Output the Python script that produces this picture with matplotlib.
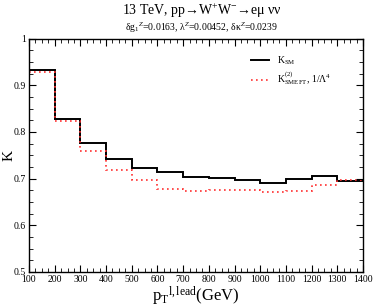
import matplotlib
matplotlib.use("Agg")
import matplotlib.pyplot as plt
from matplotlib.ticker import MultipleLocator

plt.rcParams['font.family'] = ['Liberation Serif', 'DejaVu Serif']
plt.rcParams['mathtext.fontset'] = 'custom'
plt.rcParams['mathtext.rm'] = 'Liberation Serif'
plt.rcParams['mathtext.it'] = 'Liberation Serif:italic'
plt.rcParams['mathtext.bf'] = 'Liberation Serif:bold'

bin_edges = [100, 200, 300, 400, 500, 600, 700, 800, 900, 1000, 1100, 1200, 1300, 1400]
k_sm = [0.932, 0.828, 0.776, 0.743, 0.722, 0.715, 0.703, 0.701, 0.696, 0.690, 0.700, 0.706, 0.694]
k_smeft = [0.929, 0.824, 0.760, 0.718, 0.696, 0.678, 0.673, 0.676, 0.676, 0.671, 0.674, 0.686, 0.698]

fig = plt.figure(figsize=(3.74, 3.08), dpi=100)
ax = fig.add_axes([0.0775, 0.117, 0.893, 0.758])

ax.stairs(k_sm, bin_edges, baseline=None, color='black', lw=1.4, label=r'K$_{\rm SM}$')
ax.stairs(k_smeft, bin_edges, baseline=None, color='#ff3030', lw=1.2, ls=(0, (1, 2)),
          label=r'K$^{(2)}_{\rm SMEFT}$, 1/$\Lambda^4$')

ax.set_xlim(100, 1400)
ax.set_ylim(0.5, 1.0)
ax.xaxis.set_major_locator(MultipleLocator(100))
ax.xaxis.set_minor_locator(MultipleLocator(25))
ax.yaxis.set_minor_locator(MultipleLocator(0.025))
ax.set_yticks([0.5, 0.6, 0.7, 0.8, 0.9, 1.0])
ax.set_yticklabels(['0.5', '0.6', '0.7', '0.8', '0.9', '1'])
ax.tick_params(which='both', direction='in', top=True, right=True, labelsize=7, pad=2)
ax.tick_params(which='major', length=5, width=0.8)
ax.tick_params(which='minor', length=3, width=0.6)
for s in ax.spines.values():
    s.set_linewidth(1.0)

ax.set_xlabel(r'p$_{\rm T}$$^{\rm l,lead}$(GeV)', fontsize=12, labelpad=1)
ax.set_ylabel('K', fontsize=11)
ax.yaxis.set_label_coords(-0.04, 0.5)

fig.text(0.54, 0.963, r'13 TeV, pp→W$^{+}$W$^{-}$→eμ νν', ha='center', va='center', fontsize=10)
fig.text(0.54, 0.911, r'δg$_{1}$$^{Z}$=0.0163, λ$^{Z}$=0.00452, δκ$^{Z}$=0.0239',
         ha='center', va='center', fontsize=7)

ax.legend(loc='upper right', bbox_to_anchor=(0.93, 0.97), frameon=False, fontsize=7,
          handlelength=1.8, labelspacing=0.3)

fig.savefig('out.png', dpi=100)
